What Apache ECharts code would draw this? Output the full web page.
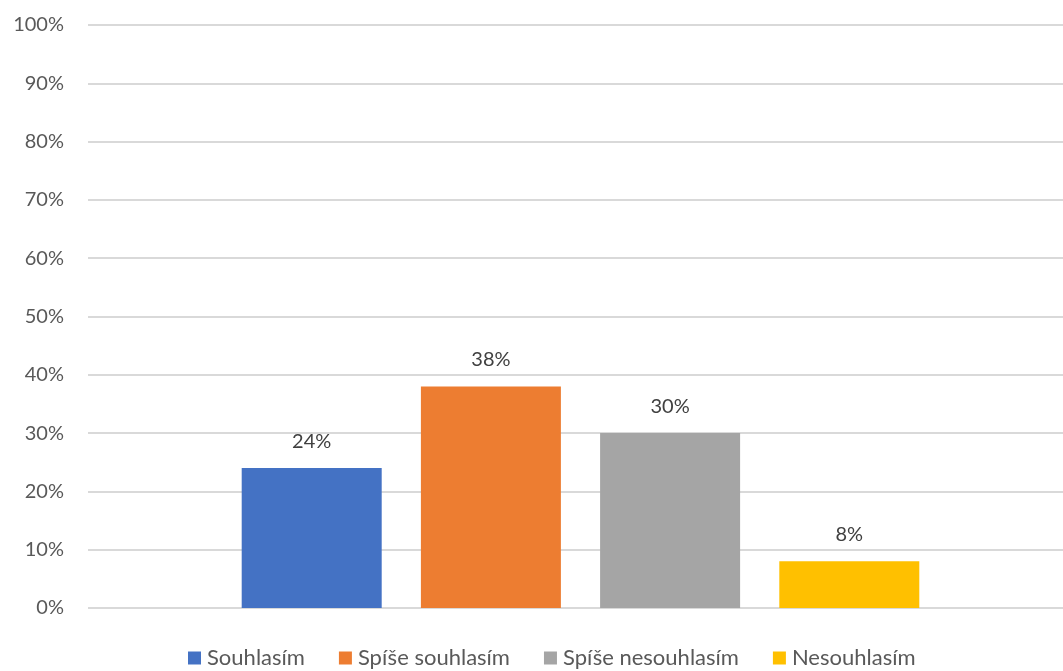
<!DOCTYPE html>
<html>
<head>
<meta charset="utf-8">
<script src="https://cdn.jsdelivr.net/npm/echarts@6/dist/echarts.min.js"></script>
<style>
  html, body { margin: 0; padding: 0; background: #fff; }
  #chart { width: 1063px; height: 671px; }
</style>
</head>
<body>
<div id="chart"></div>
<script>
// Survey answers, share of respondents (%)
const seriesNames = ['Souhlasím', 'Spíše souhlasím', 'Spíše nesouhlasím', 'Nesouhlasím'];
const seriesValues = [24, 38, 30, 8];
const seriesColors = ['#4472C4', '#ED7D31', '#A5A5A5', '#FFC000'];
const categories = [''];
const yTicks = { min: 0, max: 100, interval: 10 };

const fontFamily = 'Lato, "Open Sans", sans-serif';

const chart = echarts.init(document.getElementById('chart'));

const series = seriesNames.map((name, i) => ({
  name: name,
  type: 'bar',
  data: [seriesValues[i]],
  barWidth: 140,
  barGap: '28%',
  itemStyle: { color: seriesColors[i] },
  label: {
    show: true,
    position: 'top',
    distance: 17,
    formatter: p => p.value + '%',
    fontFamily: fontFamily,
    fontSize: 20,
    color: '#404040'
  }
}));

chart.setOption({
  animation: false,
  backgroundColor: '#ffffff',
  // plot area runs a little past the right edge of the canvas
  grid: {
    left: 88, top: 25, width: 985, height: 583,
    containLabel: false,
    outerBoundsMode: 'none'
  },
  legend: {
    top: 642,
    left: 183,
    icon: 'rect',
    itemWidth: 13,
    itemHeight: 13,
    itemGap: 34,
    textStyle: { fontFamily: fontFamily, fontSize: 22, color: '#595959', padding: [0, 0, 0, 1] },
    data: seriesNames
  },
  xAxis: {
    type: 'category',
    data: categories,
    axisLine: { show: false },
    axisTick: { show: false },
    axisLabel: { show: false }
  },
  yAxis: {
    type: 'value',
    min: yTicks.min,
    max: yTicks.max,
    interval: yTicks.interval,
    axisLine: { show: false },
    axisTick: { show: false },
    axisLabel: {
      formatter: v => v + '%',
      margin: 24,
      fontFamily: fontFamily,
      fontSize: 20,
      color: '#595959'
    },
    splitLine: { lineStyle: { color: '#D9D9D9', width: 2 } }
  },
  series: series
});
</script>
</body>
</html>
